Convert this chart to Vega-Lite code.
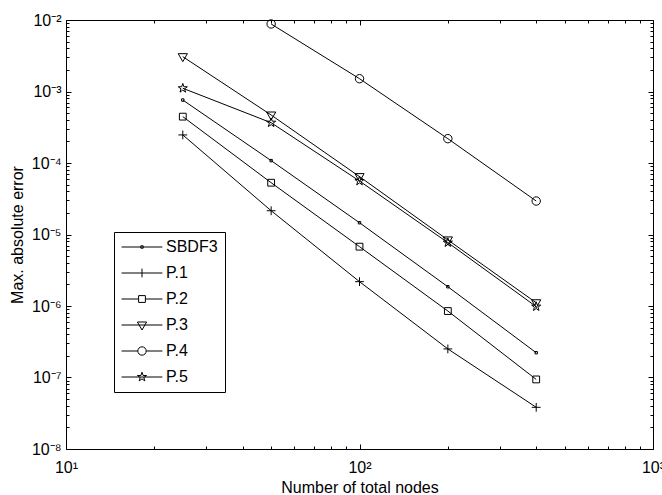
{
  "$schema": "https://vega.github.io/schema/vega-lite/v6.json",
  "width": 587,
  "height": 429,
  "autosize": "none",
  "padding": {"left": 66, "top": 20, "right": 9, "bottom": 46},
  "background": "white",
  "config": {
    "view": {"stroke": null},
    "axis": {
      "grid": false,
      "domainColor": "black",
      "domainWidth": 1,
      "tickColor": "black",
      "tickWidth": 1,
      "labelColor": "black",
      "titleColor": "black",
      "labelFont": "Liberation Sans",
      "titleFont": "Liberation Sans",
      "labelFontSize": 16,
      "titleFontSize": 16,
      "titleFontWeight": "normal",
      "labelOverlap": false,
      "labelFlush": false
    },
    "legend": {
      "orient": "none",
      "legendX": 48,
      "legendY": 212,
      "strokeColor": "black",
      "fillColor": "white",
      "padding": 7,
      "rowPadding": 10,
      "labelFont": "Liberation Sans",
      "labelFontSize": 16,
      "labelColor": "black",
      "symbolSize": 64,
      "symbolOffset": 13,
      "labelOffset": 16,
      "symbolStrokeWidth": 1,
      "symbolStrokeColor": "black",
      "symbolFillColor": "transparent",
      "symbolOpacity": 1
    }
  },
  "data": {
    "values": [
      {"series": "SBDF3", "n": 25, "err": 7.6e-4},
      {"series": "SBDF3", "n": 50, "err": 1.08e-4},
      {"series": "SBDF3", "n": 100, "err": 1.46e-5},
      {"series": "SBDF3", "n": 200, "err": 1.86e-6},
      {"series": "SBDF3", "n": 400, "err": 2.22e-7},
      {"series": "P.1", "n": 25, "err": 2.47e-4},
      {"series": "P.1", "n": 50, "err": 2.15e-5},
      {"series": "P.1", "n": 100, "err": 2.19e-6},
      {"series": "P.1", "n": 200, "err": 2.51e-7},
      {"series": "P.1", "n": 400, "err": 3.83e-8},
      {"series": "P.2", "n": 25, "err": 4.45e-4},
      {"series": "P.2", "n": 50, "err": 5.3e-5},
      {"series": "P.2", "n": 100, "err": 6.76e-6},
      {"series": "P.2", "n": 200, "err": 8.5e-7},
      {"series": "P.2", "n": 400, "err": 9.4e-8},
      {"series": "P.3", "n": 25, "err": 3.07e-3},
      {"series": "P.3", "n": 50, "err": 4.69e-4},
      {"series": "P.3", "n": 100, "err": 6.45e-5},
      {"series": "P.3", "n": 200, "err": 8.4e-6},
      {"series": "P.3", "n": 400, "err": 1.11e-6},
      {"series": "P.4", "n": 50, "err": 8.8e-3},
      {"series": "P.4", "n": 100, "err": 1.51e-3},
      {"series": "P.4", "n": 200, "err": 2.19e-4},
      {"series": "P.4", "n": 400, "err": 2.94e-5},
      {"series": "P.5", "n": 25, "err": 1.11e-3},
      {"series": "P.5", "n": 50, "err": 3.66e-4},
      {"series": "P.5", "n": 100, "err": 5.6e-5},
      {"series": "P.5", "n": 200, "err": 7.7e-6},
      {"series": "P.5", "n": 400, "err": 9.8e-7}
    ]
  },
  "layer": [
    {
      "mark": {"type": "line", "color": "black", "strokeWidth": 1},
      "encoding": {
        "x": {
          "field": "n", "type": "quantitative",
          "scale": {"type": "log", "domain": [10, 1000], "nice": false},
          "axis": {
            "orient": "bottom",
            "values": [10, 20, 30, 40, 50, 60, 70, 80, 90, 100, 200, 300, 400, 500, 600, 700, 800, 900, 1000],
            "labelExpr": "abs(log(datum.value)/LN10 - round(log(datum.value)/LN10)) < 0.001 ? '10' + ['⁰','¹','²','³','⁴'][round(log(datum.value)/LN10)] : ''",
            "tickSize": {"condition": {"test": "abs(log(datum.value)/LN10 - round(log(datum.value)/LN10)) < 0.001", "value": -5}, "value": -3},
            "labelPadding": 15,
            "title": "Number of total nodes",
            "titlePadding": 2
          }
        },
        "y": {
          "field": "err", "type": "quantitative",
          "scale": {"type": "log", "domain": [1e-8, 1e-2], "nice": false},
          "axis": {
            "orient": "left",
            "values": [1e-8, 2e-8, 3e-8, 4e-8, 5e-8, 6e-8, 7e-8, 8e-8, 9e-8, 1e-7, 2e-7, 3e-7, 4e-7, 5e-7, 6e-7, 7e-7, 8e-7, 9e-7, 1e-6, 2e-6, 3e-6, 4e-6, 5e-6, 6e-6, 7e-6, 8e-6, 9e-6, 1e-5, 2e-5, 3e-5, 4e-5, 5e-5, 6e-5, 7e-5, 8e-5, 9e-5, 1e-4, 2e-4, 3e-4, 4e-4, 5e-4, 6e-4, 7e-4, 8e-4, 9e-4, 1e-3, 2e-3, 3e-3, 4e-3, 5e-3, 6e-3, 7e-3, 8e-3, 9e-3, 1e-2],
            "labelExpr": "abs(log(datum.value)/LN10 - round(log(datum.value)/LN10)) < 0.001 ? '10⁻' + ['','¹','²','³','⁴','⁵','⁶','⁷','⁸','⁹'][-round(log(datum.value)/LN10)] : ''",
            "tickSize": {"condition": {"test": "abs(log(datum.value)/LN10 - round(log(datum.value)/LN10)) < 0.001", "value": -5}, "value": -3},
            "labelPadding": 10,
            "title": "Max. absolute error",
            "titlePadding": 6
          }
        },
        "detail": {"field": "series"}
      }
    },
    {
      "mark": {"type": "point", "filled": false, "color": "black", "strokeWidth": 1, "size": 64, "opacity": 1},
      "encoding": {
        "x": {
          "field": "n", "type": "quantitative",
          "scale": {"type": "log", "domain": [10, 1000], "nice": false},
          "axis": {
            "orient": "top",
            "values": [10, 20, 30, 40, 50, 60, 70, 80, 90, 100, 200, 300, 400, 500, 600, 700, 800, 900, 1000],
            "labels": false,
            "title": null,
            "tickSize": {"condition": {"test": "abs(log(datum.value)/LN10 - round(log(datum.value)/LN10)) < 0.001", "value": -5}, "value": -3}
          }
        },
        "y": {
          "field": "err", "type": "quantitative",
          "scale": {"type": "log", "domain": [1e-8, 1e-2], "nice": false},
          "axis": {
            "orient": "right",
            "values": [1e-8, 2e-8, 3e-8, 4e-8, 5e-8, 6e-8, 7e-8, 8e-8, 9e-8, 1e-7, 2e-7, 3e-7, 4e-7, 5e-7, 6e-7, 7e-7, 8e-7, 9e-7, 1e-6, 2e-6, 3e-6, 4e-6, 5e-6, 6e-6, 7e-6, 8e-6, 9e-6, 1e-5, 2e-5, 3e-5, 4e-5, 5e-5, 6e-5, 7e-5, 8e-5, 9e-5, 1e-4, 2e-4, 3e-4, 4e-4, 5e-4, 6e-4, 7e-4, 8e-4, 9e-4, 1e-3, 2e-3, 3e-3, 4e-3, 5e-3, 6e-3, 7e-3, 8e-3, 9e-3, 1e-2],
            "labels": false,
            "title": null,
            "tickSize": {"condition": {"test": "abs(log(datum.value)/LN10 - round(log(datum.value)/LN10)) < 0.001", "value": -5}, "value": -3}
          }
        },
        "shape": {
          "field": "series", "type": "nominal",
          "scale": {
            "domain": ["SBDF3", "P.1", "P.2", "P.3", "P.4", "P.5"],
            "range": [
              "M-0.3,-0.3H0.3V0.3H-0.3Z",
              "M-1.1,0H1.1M0,-1.1V1.1",
              "M-0.85,-0.85H0.85V0.85H-0.85Z",
              "M-1.15,-0.75H1.15L0,1.25Z",
              "M-1.05,0A1.05,1.05,0,1,1,1.05,0A1.05,1.05,0,1,1,-1.05,0Z",
              "M0,-1.2L0.276,-0.38L1.141,-0.371L0.447,0.145L0.705,0.971L0,0.47L-0.705,0.971L-0.447,0.145L-1.141,-0.371L-0.276,-0.38Z"
            ]
          },
          "legend": null
        }
      }
    },
    {
      "mark": {"type": "point", "filled": false, "color": "black", "strokeWidth": 1, "size": 64, "opacity": 0},
      "encoding": {
        "x": {"field": "n", "type": "quantitative", "scale": {"type": "log", "domain": [10, 1000], "nice": false}, "axis": null},
        "y": {"field": "err", "type": "quantitative", "scale": {"type": "log", "domain": [1e-8, 1e-2], "nice": false}, "axis": null},
        "shape": {
          "field": "series", "type": "nominal",
          "scale": {
            "domain": ["SBDF3", "P.1", "P.2", "P.3", "P.4", "P.5"],
            "range": [
              "M-5.1,0H5.1M-0.3,-0.3H0.3V0.3H-0.3Z",
              "M-5.1,0H5.1M0,-1.1V1.1",
              "M-5.1,0H-0.85M0.85,0H5.1M-0.85,-0.85H0.85V0.85H-0.85Z",
              "M-5.1,0H5.1M-1.15,-0.75H1.15L0,1.25Z",
              "M-5.1,0H-1.05M1.05,0H5.1M-1.05,0A1.05,1.05,0,1,1,1.05,0A1.05,1.05,0,1,1,-1.05,0Z",
              "M-5.1,0H5.1M0,-1.2L0.276,-0.38L1.141,-0.371L0.447,0.145L0.705,0.971L0,0.47L-0.705,0.971L-0.447,0.145L-1.141,-0.371L-0.276,-0.38Z"
            ]
          },
          "legend": {"title": null}
        }
      }
    }
  ],
  "resolve": {
    "axis": {"x": "independent", "y": "independent"},
    "scale": {"shape": "independent"}
  }
}
